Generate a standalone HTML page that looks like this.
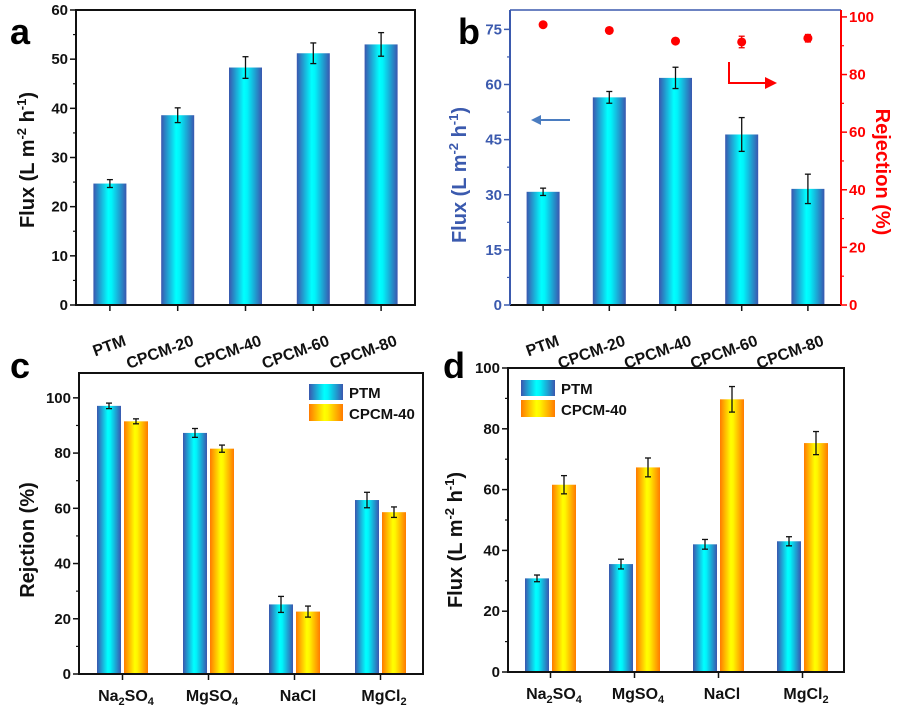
<!DOCTYPE html>
<html><head><meta charset="utf-8"><style>
body{margin:0;background:#fff}
svg{display:block;font-family:"Liberation Sans",Arial,sans-serif;font-weight:bold}
</style></head><body>
<svg id="fig" width="902" height="708" viewBox="0 0 902 708" xmlns="http://www.w3.org/2000/svg">
<defs>
<linearGradient id="gBlue" x1="0" x2="1" y1="0" y2="0">
<stop offset="0" stop-color="#3a56ae"/><stop offset="0.45" stop-color="#00ffff"/><stop offset="0.55" stop-color="#00f4fa"/><stop offset="1" stop-color="#3a56ae"/></linearGradient>
<linearGradient id="gOrange" x1="0" x2="1" y1="0" y2="0">
<stop offset="0" stop-color="#ff7a00"/><stop offset="0.45" stop-color="#ffff00"/><stop offset="0.55" stop-color="#fff500"/><stop offset="1" stop-color="#ff7a00"/></linearGradient>
</defs>
</svg>
<script>
// Panel a data
const aCats=["PTM","CPCM-20","CPCM-40","CPCM-60","CPCM-80"];
const aFlux=[24.7,38.6,48.3,51.2,53.0];
const aErr=[0.8,1.5,2.2,2.1,2.4];
const aTicks=[0,10,20,30,40,50,60];
// Panel b data
const bFlux=[30.8,56.5,61.8,46.4,31.6];
const bFluxErr=[1.0,1.6,2.9,4.6,4.0];
const bRej=[97.3,95.3,91.6,91.3,92.6];
const bRejErr=[0.5,0.7,0.6,2.0,1.3];
const bLeftTicks=[0,15,30,45,60,75];
const bRightTicks=[0,20,40,60,80,100];
// Panel c data
const cCats=["Na2SO4","MgSO4","NaCl","MgCl2"];
const cPTM=[97.1,87.3,25.2,63.0];
const cPTMErr=[1.0,1.6,2.9,2.8];
const cCPCM=[91.5,81.6,22.6,58.6];
const cCPCMErr=[0.9,1.3,2.0,1.9];
const cTicks=[0,20,40,60,80,100];
// Panel d data
const dPTM=[30.8,35.5,42.0,43.0];
const dPTMErr=[1.1,1.6,1.6,1.5];
const dCPCM=[61.6,67.3,89.7,75.3];
const dCPCMErr=[3.0,3.1,4.2,3.8];
const dTicks=[0,20,40,60,80,100];

const svg=document.getElementById('fig');
const NS="http://www.w3.org/2000/svg";
function mk(tag,attrs,parent){const e=document.createElementNS(NS,tag);for(const k in attrs)e.setAttribute(k,attrs[k]);(parent||svg).appendChild(e);return e;}
function txt(s,attrs,parent){const e=mk('text',attrs,parent);e.textContent=s;return e;}
function scale(d0,d1,r0,r1){return v=>r0+(v-d0)/(d1-d0)*(r1-r0);}
function chemLabel(name,x,y,parent){
  const t=mk('text',{x:x,y:y,'text-anchor':'middle','font-size':16,fill:'#111'},parent);
  
  const parts=name.match(/[A-Za-z]+|\d+/g);
  let shifted=false;
  parts.forEach(p=>{const ts=mk('tspan',{},t);ts.textContent=p;
    if(/\d/.test(p)){ts.setAttribute('font-size',11);ts.setAttribute('dy',4);shifted=true;}
    else if(shifted){ts.setAttribute('dy',-4);shifted=false;}});
  return t;
}
function errBar(x,yTop,yBot,g,col){
  const e=mk('g',{stroke:col||'#111','stroke-width':1.3},g);
  
  mk('line',{x1:x,x2:x,y1:yTop,y2:yBot},e);
  mk('line',{x1:x-3,x2:x+3,y1:yTop,y2:yTop},e);
  mk('line',{x1:x-3,x2:x+3,y1:yBot,y2:yBot},e);
}
function bar(x,w,y0,y,fill,g,name){
  const r=mk('rect',{x:x-w/2,y:y,width:w,height:y0-y,fill:fill},g);
  
}
function yAxisLeft(g,L,T,B,ticks,ys,col,minorStep){
  ticks.forEach((v,i)=>{const y=ys(v);mk('line',{x1:L-6,x2:L,y1:y,y2:y,stroke:col,'stroke-width':1.5},g);
    const t=txt(String(v),{x:L-8,y:y+5,'text-anchor':'end','font-size':15,fill:col},g);
    
    if(i<ticks.length-1){const ym=ys(v+minorStep);mk('line',{x1:L-3,x2:L,y1:ym,y2:ym,stroke:col,'stroke-width':1.2},g);}
  });
}
function frame(g,L,R,T,B){mk('rect',{x:L,y:T,width:R-L,height:B-T,fill:'none',stroke:'#111','stroke-width':2},g);}
function panelLetter(s,x,y){const t=txt(s,{x:x,y:y,'font-size':36,fill:'#000'});}
// parts: [text, isSuperscript]
function rotTitle(g,x,y,ang,col,parts){
  const t=mk('text',{transform:`translate(${x},${y}) rotate(${ang})`,'text-anchor':'middle','font-size':20,fill:col},g);
  
  let up=false;
  parts.forEach(p=>{const ts=mk('tspan',{},t);ts.textContent=p[0];
    if(p[1]){ts.setAttribute('font-size',13);ts.setAttribute('dy',-8);up=true;}
    else if(up){ts.setAttribute('dy',8);up=false;}});
}
const fluxParts=[['Flux (L m'],['-2',1],[' h'],['-1',1],[')']];

// ---- Panel a ----
(function(){
  const g=mk('g',{});
  const L=76,R=415,T=10,B=305;const ys=scale(0,60,B,T);
  const step=(R-L)/aCats.length;const xs=i=>L+step*(i+0.5);
  aFlux.forEach((v,i)=>{bar(xs(i),33,B,ys(v),'url(#gBlue)',g,'bar-'+aCats[i].toLowerCase());errBar(xs(i),ys(v+aErr[i]),ys(v-aErr[i]),g);});
  frame(g,L,R,T,B);
  yAxisLeft(g,L,T,B,aTicks,ys,'#111',5);
  aCats.forEach((c,i)=>{mk('line',{x1:xs(i),x2:xs(i),y1:B,y2:B+6,stroke:'#111','stroke-width':1.5},g);
    const t=txt(c,{transform:`translate(${xs(i)+17},${B+40}) rotate(-20)`,'text-anchor':'end','font-size':16,fill:'#111'},g);
    });
  rotTitle(g,34,160,-90,'#111',fluxParts);
})();
panelLetter('a',10,44);

// ---- Panel b ----
(function(){
  const g=mk('g',{});
  const L=510,R=841,T=10,B=305;const ys=scale(0,80,B,T+1);const yr=scale(0,102.4,B,T);
  const step=(R-L)/aCats.length;const xs=i=>L+step*(i+0.5);
  bFlux.forEach((v,i)=>{bar(xs(i),33,B,ys(v),'url(#gBlue)',g,'flux-bar-'+aCats[i].toLowerCase());errBar(xs(i),ys(v+bFluxErr[i]),ys(v-bFluxErr[i]),g);});
  bRej.forEach((v,i)=>{errBar(xs(i),yr(v+bRejErr[i]),yr(v-bRejErr[i]),g,'#e00');
    const c=mk('circle',{cx:xs(i),cy:yr(v),r:4.5,fill:'#f00'},g);});
  mk('line',{x1:L,x2:R,y1:B,y2:B,stroke:'#111','stroke-width':2},g);
  mk('line',{x1:L,x2:R,y1:T,y2:T,stroke:'#3b5aae','stroke-width':1.5},g);
  mk('line',{x1:L,x2:L,y1:T,y2:B,stroke:'#3b5aae','stroke-width':2},g);
  mk('line',{x1:R,x2:R,y1:T,y2:B,stroke:'#f00','stroke-width':2},g);
  yAxisLeft(g,L,T,B,bLeftTicks,ys,'#3b5aae',7.5);
  bRightTicks.forEach((v,i)=>{const y=yr(v);mk('line',{x1:R,x2:R+6,y1:y,y2:y,stroke:'#f00','stroke-width':1.5},g);
    const t=txt(String(v),{x:R+8,y:y+5,'font-size':15,fill:'#f00'},g);
    if(i<bRightTicks.length-1){const ym=yr(v+10);mk('line',{x1:R,x2:R+3,y1:ym,y2:ym,stroke:'#f00','stroke-width':1.2},g);}});
  aCats.forEach((c,i)=>{mk('line',{x1:xs(i),x2:xs(i),y1:B,y2:B+6,stroke:'#111','stroke-width':1.5},g);
    const t=txt(c,{transform:`translate(${xs(i)+17},${B+40}) rotate(-20)`,'text-anchor':'end','font-size':16,fill:'#111'},g);
    });
  rotTitle(g,466,175,-90,'#3b5aae',fluxParts);
  rotTitle(g,876,172,90,'#f00',[['Rejection (%)']]);
  const la=mk('g',{},g);
  mk('line',{x1:570,x2:538,y1:120,y2:120,stroke:'#4a7cc0','stroke-width':2},la);
  mk('polygon',{points:'531,120 541,115 541,125',fill:'#4a7cc0'},la);
  const ra=mk('g',{},g);
  mk('polyline',{points:'729,62 729,83 768,83',fill:'none',stroke:'#f00','stroke-width':2},ra);
  mk('polygon',{points:'777,83 765,77 765,89',fill:'#f00'},ra);
})();
panelLetter('b',458,44);

// ---- grouped panels ----
function grouped(name,L,R,T,B,max,ticks,p1,e1,p2,e2,legX,legY,x0,stepG){
  const g=mk('g',{});
  const ys=scale(0,max,B,T);
  cCats.forEach((c,i)=>{const xc=x0+stepG*i;
    bar(xc,24,B,ys(p1[i]),'url(#gBlue)',g,'bar-ptm-'+c.toLowerCase());errBar(xc,ys(p1[i]+e1[i]),ys(p1[i]-e1[i]),g);
    bar(xc+27,24,B,ys(p2[i]),'url(#gOrange)',g,'bar-cpcm40-'+c.toLowerCase());errBar(xc+27,ys(p2[i]+e2[i]),ys(p2[i]-e2[i]),g);
    mk('line',{x1:xc+13.5,x2:xc+13.5,y1:B,y2:B+6,stroke:'#111','stroke-width':1.5},g);
    chemLabel(c,xc+17,B+27,g);
  });
  frame(g,L,R,T,B);
  yAxisLeft(g,L,T,B,ticks,ys,'#111',10);
  const lg=mk('g',{},g);
  const e1g=mk('g',{},lg);
  mk('rect',{x:legX,y:legY,width:34,height:16,fill:'url(#gBlue)'},e1g);
  txt('PTM',{x:legX+40,y:legY+14,'font-size':15,fill:'#111'},e1g);
  const e2g=mk('g',{},lg);
  mk('rect',{x:legX,y:legY+20,width:34,height:17,fill:'url(#gOrange)'},e2g);
  txt('CPCM-40',{x:legX+40,y:legY+35,'font-size':15,fill:'#111'},e2g);
  return g;
}
const gc=grouped('panel-c-rejection-chart',79,423,373,674,109,cTicks,cPTM,cPTMErr,cCPCM,cCPCMErr,309,384,109,86);
rotTitle(gc,34,540,-90,'#111',[['Rejction (%)']]);
panelLetter('c',10,378);
const gd=grouped('panel-d-flux-chart',508,844,368,672,100,dTicks,dPTM,dPTMErr,dCPCM,dCPCMErr,521,380,537,84);
rotTitle(gd,462,540,-90,'#111',fluxParts);
panelLetter('d',443,378);
</script>
</body></html>
